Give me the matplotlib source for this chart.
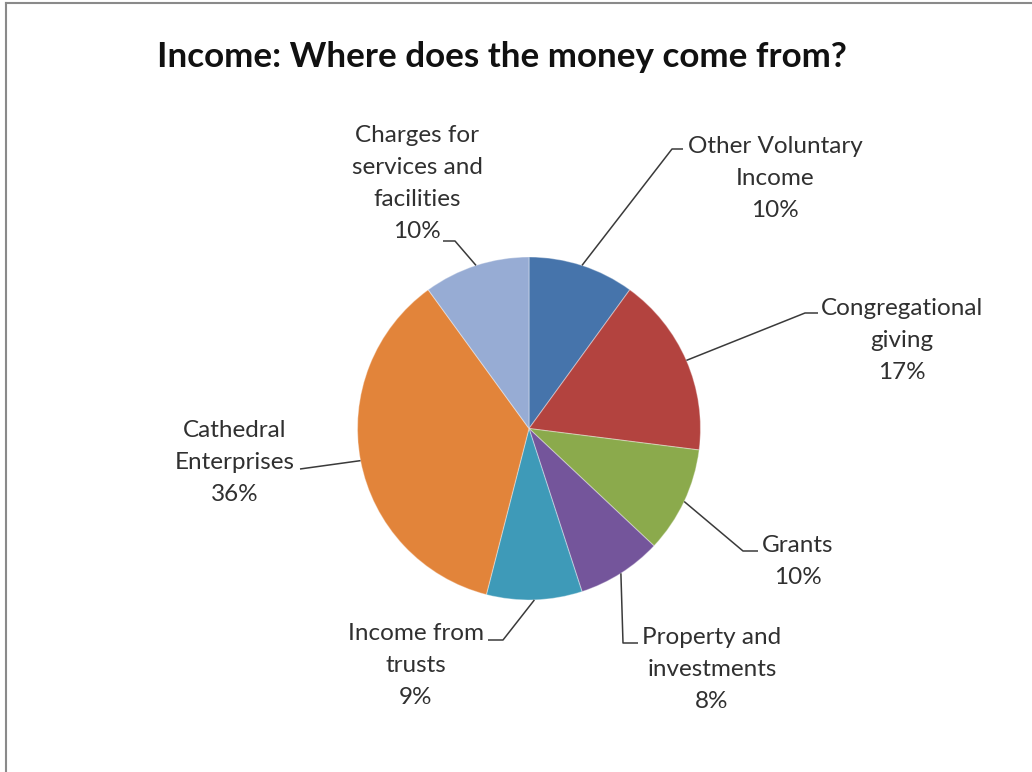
import numpy as np
import matplotlib
matplotlib.use("Agg")
import matplotlib.pyplot as plt
from matplotlib.lines import Line2D

# Income sources, clockwise from 12 o'clock
categories = [
    "Other Voluntary Income",
    "Congregational giving",
    "Grants",
    "Property and investments",
    "Income from trusts",
    "Cathedral Enterprises",
    "Charges for services and facilities",
]
shares = [10, 17, 10, 8, 9, 36, 10]
label_lines = [
    ["Other Voluntary", "Income"],
    ["Congregational", "giving"],
    ["Grants"],
    ["Property and", "investments"],
    ["Income from", "trusts"],
    ["Cathedral", "Enterprises"],
    ["Charges for", "services and", "facilities"],
]
colors = ["#4674AB", "#B3433F", "#8BAA4C", "#74559B", "#3E9AB8", "#E2843A", "#97ACD4"]
title = "Income: Where does the money come from?"

W, H = 1032, 772
CX, CY, R = 529.0, 428.5, 171.5      # pie centre and radius in pixels


def to_data(px, py):
    return (px - CX) / R, (CY - py) / R


fig = plt.figure(figsize=(W / 100, H / 100), dpi=100)
ax = fig.add_axes([0, 0, 1, 1])
wedges, _ = ax.pie(shares, colors=colors, startangle=90, counterclock=False,
                   radius=1.0, center=(0, 0),
                   wedgeprops=dict(edgecolor=(1, 1, 1, 0.35), linewidth=0.8))
x0, y0 = to_data(0, H)
x1, y1 = to_data(W, 0)
ax.set_xlim(x0, x1)
ax.set_ylim(y0, y1)
ax.set_aspect("auto")
ax.axis("off")

FONT = "Lato"
TXT = "#303030"
LINE_STEP = 32

# label blocks: centre x, first baseline, leader path (pixels, ends at the wedge)
layout = [
    (775, 153, [(683, 149), (672, 149)]),
    (902, 315, [(818, 313), (805, 313)]),
    (798, 552, [(758, 551), (743, 551)]),
    (712, 644, [(638, 643), (623, 643)]),
    (416, 640, [(488, 640), (503, 640)]),
    (235, 437, [(300, 469)]),
    (417, 142, [(443, 241), (455, 241)]),
]

total = float(sum(shares))
cum = 0.0
for share, lines, (cx, base, leader) in zip(shares, label_lines, layout):
    mid = (cum + share / 2) / total
    cum += share
    ang = np.deg2rad(90 - 360 * mid)
    edge = (np.cos(ang), np.sin(ang))

    texts = lines + [f"{share / total * 100:.0f}%"]
    for i, t in enumerate(texts):
        tx, ty = to_data(cx, base + i * LINE_STEP)
        ax.text(tx, ty, t, ha="center", va="baseline", fontsize=17.5,
                family=FONT, color=TXT)

    pts = [to_data(*p) for p in leader] + [edge]
    ax.plot([p[0] for p in pts], [p[1] for p in pts], color="#3a3a3a",
            lw=1.1, solid_capstyle="butt")

tx, ty = to_data(502, 67)
ax.text(tx, ty, title, ha="center", va="baseline", fontsize=25.2,
        fontweight="bold", family=FONT, color="#111111")

# chart-area frame (top and left edges)
fig.add_artist(Line2D([6 / W, 1], [1 - 3 / H, 1 - 3 / H], color="#8a8a8a", lw=1.5,
                      transform=fig.transFigure))
fig.add_artist(Line2D([6 / W, 6 / W], [0, 1 - 3 / H], color="#8a8a8a", lw=1.5,
                      transform=fig.transFigure))

fig.savefig("out.png", dpi=100, facecolor="white")
